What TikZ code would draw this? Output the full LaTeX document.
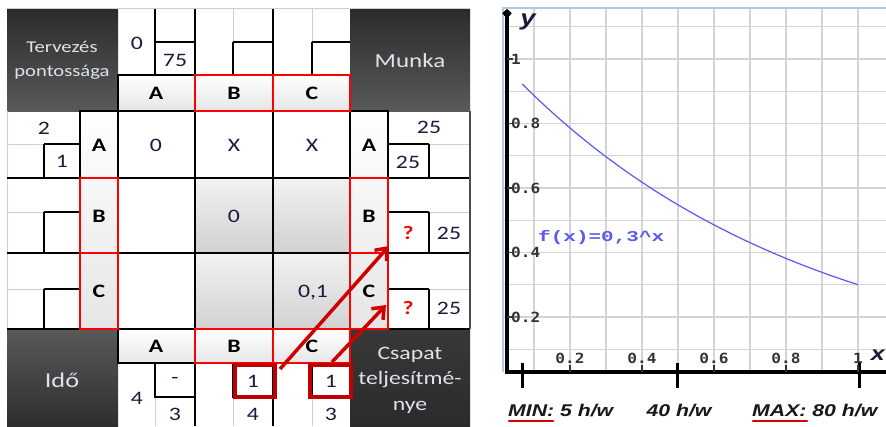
\documentclass[tikz,border=0pt]{standalone}
\usepackage{fontspec}
\setmainfont[FakeStretch=1.25]{Carlito}
\newfontfamily\grafont[FakeStretch=1.25]{Liberation Sans}
\newfontfamily\fxfont[FakeStretch=1.4]{Liberation Mono}
\newfontfamily\tickfont[FakeStretch=1.15]{DejaVu Sans Mono}
\usetikzlibrary{arrows.meta}
\definecolor{numcol}{HTML}{1A1A3A}
\definecolor{hdtext}{HTML}{DDE3EC}
\definecolor{gridl}{HTML}{C8D0DC}
\definecolor{dred}{HTML}{C00000}
\definecolor{arrred}{HTML}{D00000}
\definecolor{frameb}{HTML}{B4C6E0}
\definecolor{ggrid}{HTML}{D4D4D4}
\definecolor{curveb}{HTML}{5A5AF0}
\begin{document}
\begin{tikzpicture}[x=1pt,y=-1pt,
  num/.style={font=\fontsize{19}{22}\selectfont, text=numcol, inner sep=0pt},
  lett/.style={font=\fontsize{19}{22}\selectfont\bfseries, text=black, inner sep=0pt},
  qm/.style={font=\fontsize{19}{22}\selectfont\bfseries, text=red, inner sep=0pt},
  darktxt/.style={text=hdtext, align=center, inner sep=0pt},
  blk/.style={draw=black, line width=1.3pt},
  thk/.style={draw=black, line width=2.6pt},
  lgt/.style={draw=gridl, line width=0.9pt},
  redbox/.style={draw=red, line width=2.6pt},
  hilite/.style={draw=dred, line width=3.5pt},
  arr/.style={draw=arrred, line width=3.5pt, -{Straight Barb[length=10pt,width=16pt]}},
  hdcell/.style={top color=white, bottom color=black!10},
  greycell/.style={top color=black!5, bottom color=black!18},
  gl/.style={draw=ggrid, line width=1.3pt},
  ticklab/.style={font=\tickfont\bfseries\fontsize{14}{16}\selectfont, text=black!80, inner sep=0pt},
  axl/.style={font=\grafont\bfseries\itshape\fontsize{17}{20}\selectfont, text=black!90, inner sep=0pt},
  ul/.style={draw=red!85!black, line width=2.5pt, line cap=round}
]
\useasboundingbox (0,0) rectangle (886,426);
\fill[white] (0,0) rectangle (886,426);

% ---------- dark header blocks ----------
\shade[top color=black!83, bottom color=black!65] (7,9) rectangle (118,111);
\shade[top color=black!83, bottom color=black!65] (350,9) rectangle (470,111);
\shade[top color=black!65, bottom color=black!82] (7,329) rectangle (118,426);
\shade[top color=black!78, bottom color=black!83] (350,329) rectangle (470,426);

% ---------- header cells ----------
\shade[hdcell] (118,75) rectangle (350,111);
\shade[hdcell] (118,329) rectangle (350,363);
\shade[hdcell] (80,111) rectangle (118,329);
\shade[hdcell] (350,111) rectangle (388,329);

% ---------- grey cells ----------
\foreach \cx in {195,273}{
  \foreach \cy/\cz in {178/253,253/329}{
    \shade[greycell] (\cx,\cy) rectangle ({\cx+78},\cz);
  }
}

% ---------- light lines ----------
\draw[lgt] (7,8) -- (470,8);
\draw[lgt] (7,111) -- (7,329);
\draw[lgt] (233,9) -- (233,42);
\draw[lgt] (312,9) -- (312,42);
\draw[lgt] (7,144) -- (44,144);
\draw[lgt] (7,212) -- (44,212);
\draw[lgt] (7,289) -- (44,289);
\draw[lgt] (429,144) -- (470,144);
\draw[lgt] (429,212) -- (470,212);
\draw[lgt] (429,289) -- (470,289);
\draw[lgt] (155,397) -- (155,426);
\draw[lgt] (233,397) -- (233,426);
\draw[lgt] (312,397) -- (312,426);

% ---------- black lines: top ----------
\draw[blk] (155,9) -- (155,75);
\draw[blk] (195,9) -- (195,75);
\draw[blk] (273,9) -- (273,75);
\draw[blk] (233,42) -- (233,75);
\draw[blk] (312,42) -- (312,75);
\draw[blk] (155,42) -- (195,42);
\draw[blk] (233,42) -- (273,42);
\draw[blk] (312,42) -- (350,42);
\draw[thk] (118,75) -- (350,75);
\draw[thk] (118,75) rectangle (195,111);

% ---------- main grid ----------
\draw[blk] (118,111) rectangle (350,329);
\draw[blk] (195,111) -- (195,329);
\draw[blk] (273,111) -- (273,329);
\draw[blk] (118,178) -- (350,178);
\draw[blk] (118,253) -- (350,253);
\draw[thk] (118,111) rectangle (195,178);

% ---------- left side ----------
\draw[blk] (7,178) -- (80,178);
\draw[blk] (7,253) -- (80,253);
\draw[blk] (7,329) -- (80,329);
\draw[blk] (44,144) -- (80,144) (44,144) -- (44,178);
\draw[blk] (44,212) -- (80,212) (44,212) -- (44,253);
\draw[blk] (44,289) -- (80,289) (44,289) -- (44,329);
\draw[thk] (80,111) -- (80,329);
\draw[thk] (80,111) rectangle (118,178);

% ---------- right side ----------
\draw[blk] (388,178) -- (470,178);
\draw[blk] (388,253) -- (470,253);
\draw[blk] (388,329) -- (470,329);
\draw[blk] (388,144) -- (429,144) (429,144) -- (429,178);
\draw[blk] (388,212) -- (429,212) (429,212) -- (429,253);
\draw[blk] (388,289) -- (429,289) (429,289) -- (429,329);
\draw[draw=black!70, line width=2pt] (470,111) -- (470,329);
\draw[thk] (388,111) -- (388,329);
\draw[thk] (350,111) rectangle (388,178);

% ---------- bottom ----------
\draw[thk] (118,363) -- (350,363);
\draw[thk] (118,329) rectangle (195,363);
\draw[blk] (155,363) -- (155,397) -- (195,397);
\draw[blk] (233,363) -- (233,397) -- (273,397);
\draw[blk] (312,363) -- (312,397) -- (350,397);
\draw[blk] (195,363) -- (195,426);
\draw[blk] (273,363) -- (273,426);

% ---------- red boxes ----------
\draw[redbox] (195,75) rectangle (273,111);
\draw[redbox] (273,75) rectangle (350,111);
\draw[redbox] (80,178) rectangle (118,253);
\draw[redbox] (80,253) rectangle (118,329);
\draw[redbox] (350,178) rectangle (388,253);
\draw[redbox] (350,253) rectangle (388,329);
\draw[redbox] (195,329) rectangle (273,363);
\draw[redbox] (273,329) rectangle (350,363);

% ---------- dark red highlight boxes ----------
\draw[hilite] (235,365) rectangle (275,397);
\draw[hilite] (310,365) rectangle (351,397);

% ---------- texts ----------
\node[darktxt, font=\fontsize{16.5}{24}\selectfont] (tp) at (62,60) {Tervezés\\pontossága};
\node[darktxt, font=\fontsize{20}{24}\selectfont] (mu) at (410,61) {Munka};
\node[darktxt, font=\fontsize{21}{24}\selectfont] (id) at (62,380) {Idő};
\node[darktxt, font=\fontsize{19}{25.5}\selectfont] (cs) at (410,380) {Csapat\\teljesítmé-\\nye};

\node[num] (t0) at (137,43) {0};
\node[num] (t75) at (175,60) {75};
\node[lett] (hA) at (156,93) {A};
\node[lett] (hB) at (234,93) {B};
\node[lett] (hC) at (312,93) {C};

\node[num] (l2) at (44,128) {2};
\node[num] (l1) at (62,161) {1};
\node[lett] (rA) at (99,145) {A};
\node[lett] (rB) at (99,216) {B};
\node[lett] (rC) at (99,291) {C};

\node[num] (cAA) at (156,145) {0};
\node[num] (cAB) at (234,145) {X};
\node[num] (cAC) at (312,145) {X};
\node[num] (cBB) at (234,216) {0};
\node[num] (cCC) at (313,293) {0,1};

\node[lett] (qA) at (369,145) {A};
\node[lett] (qB) at (369,216) {B};
\node[lett] (qC) at (369,291) {C};
\node[num] (r25a) at (429,127) {25};
\node[num] (r25b) at (408,162) {25};
\node[qm] (qmB) at (408,233) {?};
\node[num] (r25c) at (449,233) {25};
\node[qm] (qmC) at (408,308) {?};
\node[num] (r25d) at (449,308) {25};

\node[lett] (bA) at (156,346) {A};
\node[lett] (bB) at (234,346) {B};
\node[lett] (bC) at (312,346) {C};
\node[num] (b4) at (137,398) {4};
\node[num] (bdash) at (175,380) {-};
\node[num] (b3) at (175,414) {3};
\node[num] (bB1) at (253,381) {1};
\node[num] (bB4) at (253,414) {4};
\node[num] (bC1) at (331,381) {1};
\node[num] (bC3) at (331,414) {3};

% ---------- arrows ----------
\coordinate (s1) at (280,369);
\coordinate (e1) at (389,246);
\coordinate (s2) at (332,362);
\coordinate (e2) at (386,305);
\draw[arr] (s1) -- (e1);
\draw[arr] (s2) -- (e2);

% ================= GRAPH =================
\foreach \i in {0,...,9} \draw[gl] ({534+36*\i},8) -- ({534+36*\i},372);
\foreach \i in {0,...,10} \draw[gl] (503,{26.75+32.25*\i}) -- (886,{26.75+32.25*\i});
\draw[draw=frameb, line width=1.6pt] (503,372) -- (503,8) -- (886,8);

\draw[curveb, line width=1.2pt] plot[domain=0.067:1, samples=60] ({498+360*\x},{59+322.5*(1-0.3^(\x))});

\draw[line width=4pt] (505,372) -- (886,372);
\draw[line width=4pt, -{Straight Barb[length=3pt,width=7pt]}] (507,374) -- (507,9);
\coordinate (tk1) at (522,363);
\coordinate (tk2) at (677,363);
\coordinate (tk3) at (859,363);
\foreach \t in {tk1,tk2,tk3} \draw[line width=3pt] (\t) -- ++(0,25);

\foreach \yy/\lab in {59/1, 123.5/0.8, 188/0.6, 252.5/0.4, 317/0.2}{
  \draw[line width=1.5pt, black!80] (507,\yy) -- (513,\yy);
  \node[ticklab, anchor=west] at (511,\yy) {\lab};
}
\foreach \xx/\lab in {570/0.2, 642/0.4, 714/0.6, 786/0.8, 858/1}{
  \draw[line width=1.5pt, black!80] (\xx,365) -- (\xx,372);
  \node[ticklab] at (\xx,358) {\lab};
}
\node[font=\grafont\bfseries\itshape\fontsize{22}{24}\selectfont, text=numcol, inner sep=0pt] (ylab) at (528,22) {y};
\node[font=\grafont\bfseries\itshape\fontsize{20}{22}\selectfont, text=numcol, inner sep=0pt, anchor=east] (xlab) at (885,355) {x};

\node[font=\fxfont\bfseries\fontsize{15}{18}\selectfont, text=curveb, inner sep=0pt, anchor=west] (fx) at (538,238) {f(x)=0,3\textasciicircum x};

\node[axl, anchor=west] (mn) at (508,411) {MIN: 5 h/w};
\node[axl] (fw) at (679,411) {40 h/w};
\node[axl, anchor=west] (mx) at (752,411) {MAX: 80 h/w};
\draw[ul] (509,421) -- (553,421);
\draw[ul] (753,421) -- (807,421);
\end{tikzpicture}
\end{document}
